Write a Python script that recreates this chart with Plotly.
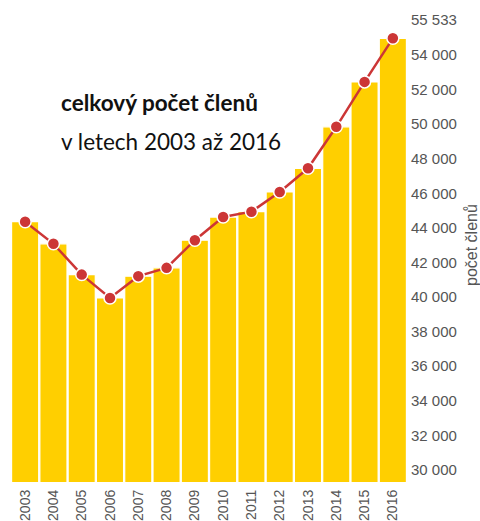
import plotly.graph_objects as go

years = ["2003", "2004", "2005", "2006", "2007", "2008", "2009",
         "2010", "2011", "2012", "2013", "2014", "2015", "2016"]
members = [44360, 43080, 41300, 39950, 41210, 41690, 43290,
           44630, 44940, 46080, 47450, 49850, 52450, 54970]
y_ticks = [30000, 32000, 34000, 36000, 38000, 40000, 42000,
           44000, 46000, 48000, 50000, 52000, 54000]
axis_max_label = "55 533"
y_range = [29300, 56030]
title_line1 = "celkový počet členů"
title_line2 = "v letech 2003 až 2016"
axis_title = "počet členů"

BAR = "#FFCF00"
RED = "#CC3636"
GREY = "#555555"

fig = go.Figure()
fig.add_trace(go.Bar(
    x=years, y=members,
    marker=dict(color=BAR, line=dict(color="white", width=1.2)),
    hoverinfo="skip",
))
fig.add_trace(go.Scatter(
    x=years, y=members, mode="lines+markers",
    line=dict(color=RED, width=2.5),
    marker=dict(color=RED, size=12, line=dict(color="white", width=1.5)),
))

tickvals = y_ticks + [y_range[1]]
ticktext = [f"{v:,}".replace(",", " ") for v in y_ticks] + [axis_max_label]

fig.update_layout(
    width=480, height=521,
    margin=dict(l=11, r=73, t=20, b=39),
    paper_bgcolor="white", plot_bgcolor="white",
    showlegend=False,
    bargap=0.04,
    xaxis=dict(
        type="category", range=[-0.5, 13.5], automargin=False,
        tickangle=-90, showgrid=False, zeroline=False, showline=False,
        tickfont=dict(family="Arial, Liberation Sans, sans-serif", size=14, color=GREY),
        ticks="", ticklabelstandoff=4,
    ),
    yaxis=dict(
        side="right", range=y_range, tickvals=tickvals, ticktext=ticktext,
        automargin=False, ticklabelstandoff=3,
        showgrid=False, zeroline=False, showline=False, ticks="",
        tickfont=dict(family="Arial, Liberation Sans, sans-serif", size=15, color=GREY),
    ),
    annotations=[
        dict(text=f"<b>{title_line1}</b>", xref="paper", yref="paper",
             x=(59 - 11) / 396, y=(482 - 103) / 462, xanchor="left", yanchor="middle",
             showarrow=False, font=dict(family="Lato, sans-serif", size=22.5, color="#111111")),
        dict(text=title_line2, xref="paper", yref="paper",
             x=(59 - 11) / 396, y=(482 - 141) / 462, xanchor="left", yanchor="middle",
             showarrow=False, font=dict(family="Lato, sans-serif", size=22.5, color="#111111")),
        dict(text=axis_title, xref="paper", yref="paper", textangle=-90,
             x=(471 - 11) / 396, y=(482 - 245) / 462, xanchor="center", yanchor="middle",
             showarrow=False, font=dict(family="Arial, Liberation Sans, sans-serif", size=16, color=GREY)),
    ],
)

fig.write_html("out.html", config={"displayModeBar": False},
               post_script="document.body.style.margin='0';")
